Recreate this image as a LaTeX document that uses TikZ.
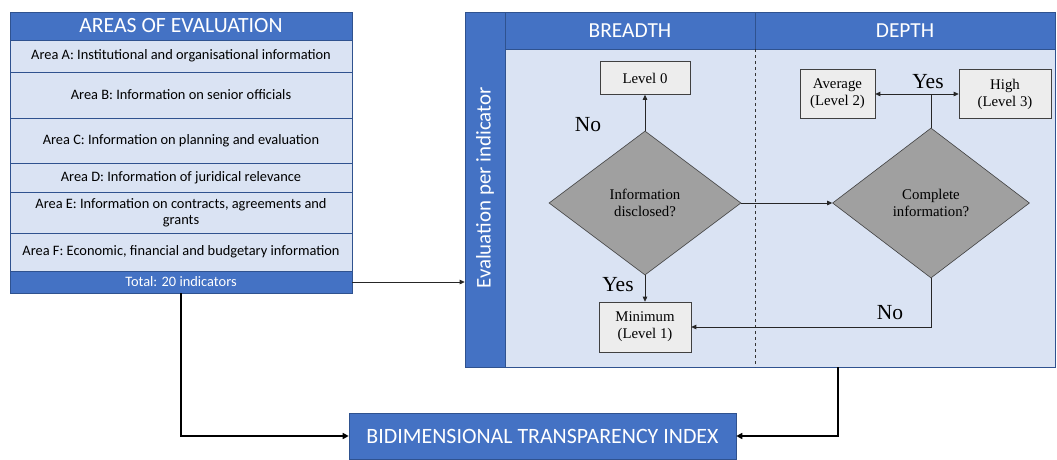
\documentclass[tikz,border=0pt]{standalone}
\usepackage{fontspec}
\setmainfont{Liberation Serif}
\newfontfamily\carl{Carlito}
\usetikzlibrary{shapes.geometric,arrows.meta}
\definecolor{hblue}{HTML}{4472C4}
\definecolor{lblue}{HTML}{DAE3F3}
\definecolor{edge}{HTML}{2F528F}
\definecolor{dgray}{HTML}{A0A0A0}
\definecolor{bgray}{HTML}{EDEDED}
\tikzset{
  hdr/.style={fill=hblue,draw=edge,line width=0.6pt,text=white,inner sep=0pt,font=\carl\fontsize{21.7}{24}\selectfont},
  rowbox/.style={fill=lblue,draw=edge,line width=0.6pt,minimum width=342pt,inner sep=0pt,align=center,font=\carl\fontsize{14.4}{16.5}\selectfont},
  lvl/.style={fill=bgray,draw=black!75,line width=0.6pt,inner sep=0pt,align=center,font=\fontsize{14.8}{17}\selectfont},
  dia/.style={diamond,fill=dgray,draw=black!75,line width=0.6pt,inner sep=0pt,align=center,font=\fontsize{14.8}{17}\selectfont},
  lab/.style={font=\fontsize{21.5}{23}\selectfont,inner sep=0pt},
  arr/.style={-{Triangle[length=5pt,width=4.5pt]},line width=0.8pt,black!85},
  barr/.style={-{Triangle[length=6pt,width=6pt]},line width=1.8pt,black}
}
\begin{document}
\begin{tikzpicture}[x=1pt,y=-1pt]
\useasboundingbox (0,0) rectangle (1057,459);
% left box
\node[hdr,minimum width=342pt,minimum height=28pt] (areas) at (181,26) {AREAS OF EVALUATION};
\node[rowbox,minimum height=32pt] (ra) at (181,56) {Area A: Institutional and organisational information};
\node[rowbox,minimum height=46pt] (rb) at (181,95) {Area B: Information on senior officials};
\node[rowbox,minimum height=45pt] (rc) at (181,140.5) {Area C: Information on planning and evaluation};
\node[rowbox,minimum height=29pt] (rd) at (181,177.5) {Area D: Information of juridical relevance};
\node[rowbox,minimum height=41pt] (re) at (181,212.5) {Area E: Information on contracts, agreements and\\grants};
\node[rowbox,minimum height=38pt] (rf) at (181,252) {Area F: Economic, financial and budgetary information};
\node[hdr,minimum width=342pt,minimum height=22pt,font=\carl\fontsize{14.4}{16}\selectfont] (total) at (181,282) {Total: 20 indicators};
% right panel
\node[fill=lblue,draw=edge,line width=0.6pt,minimum width=550pt,minimum height=318pt,inner sep=0pt] (body) at (780,208) {};
\node[hdr,minimum width=40pt,minimum height=355pt] (strip) at (485,189.5) {};
\node[text=white,rotate=90,font=\carl\fontsize{20.9}{23}\selectfont,inner sep=0pt] (evtxt) at (485,188) {Evaluation per indicator};
\node[hdr,minimum width=250pt,minimum height=37pt,font=\carl\fontsize{21.4}{23}\selectfont] (breadth) at (630,30.5) {BREADTH};
\node[hdr,minimum width=300pt,minimum height=37pt,font=\carl\fontsize{21.4}{23}\selectfont] (depth) at (905,30.5) {DEPTH};
\draw[dashed,line width=0.6pt,black!80] (breadth.south east) -- (breadth.south east |- body.south);
% flow
\node[lvl,minimum width=90pt,minimum height=33pt] (l0) at (645,78) {Level 0};
\node[dia,minimum width=192pt,minimum height=144pt] (d1) at (645,203) {Information\\disclosed?};
\node[lvl,minimum width=92pt,minimum height=50pt] (mini) at (645,327) {Minimum\\(Level 1)};
\node[dia,minimum width=197pt,minimum height=150pt] (d2) at (931,203) {Complete\\information?};
\node[lvl,minimum width=75pt,minimum height=49pt] (avg) at (837.5,94) {Average\\(Level 2)};
\node[lvl,minimum width=92pt,minimum height=49pt] (high) at (1005,94) {High\\(Level 3)};
\coordinate (yj) at (931,94);
\draw[arr] (d1.north) -- (l0.south);
\draw[arr] (d1.south) -- (mini.north);
\draw[arr] (d1.east) -- (d2.west);
\draw[line width=0.8pt,black!85] (d2.north) -- (yj);
\draw[arr] (yj) -- (avg.east);
\draw[arr] (yj) -- (high.west);
\draw[arr] (d2.south) |- (mini.east);
\node[lab] (no1) at (588,125) {No};
\node[lab] (yes1) at (618,285) {Yes};
\node[lab] (yes2) at (928,82) {Yes};
\node[lab] (no2) at (890,313) {No};
% index
\node[hdr,minimum width=387pt,minimum height=46pt,font=\carl\fontsize{21.9}{24}\selectfont] (index) at (542.5,436) {BIDIMENSIONAL TRANSPARENCY INDEX};
\draw[arr] (total.east) -- (total.east -| strip.west);
\coordinate (pb) at (838,367);
\draw[barr] (total.south) |- (index.west);
\draw[barr] (pb) |- (index.east);
\end{tikzpicture}
\end{document}
